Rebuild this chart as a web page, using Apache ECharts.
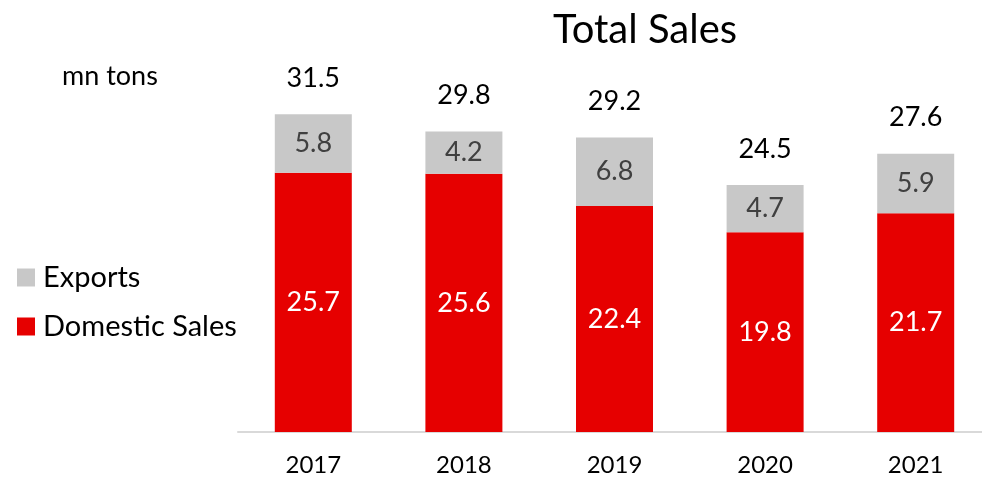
<!DOCTYPE html>
<html>
<head>
<meta charset="utf-8">
<script src="https://cdn.jsdelivr.net/npm/echarts@6/dist/echarts.min.js"></script>
<style>
  html, body { margin: 0; padding: 0; background: #fff; }
  #chart { width: 982px; height: 482px; }
</style>
</head>
<body>
<div id="chart"></div>
<script>
const years = ['2017', '2018', '2019', '2020', '2021'];
const domestic = [25.7, 25.6, 22.4, 19.8, 21.7];
const exports = [5.8, 4.2, 6.8, 4.7, 5.9];
const totals = [31.5, 29.8, 29.2, 24.5, 27.6];

const font = 'Lato, "Open Sans", sans-serif';
const chart = echarts.init(document.getElementById('chart'));

chart.setOption({
  animation: false,
  textStyle: { fontFamily: font },
  title: [
    {
      text: 'Total Sales',
      left: 640, top: 5, textAlign: 'center',
      textStyle: { fontSize: 40, fontWeight: 'normal', color: '#000', fontFamily: font }
    },
    {
      text: 'mn tons',
      left: 57, top: 58,
      textStyle: { fontSize: 27, fontWeight: 'normal', color: '#000', fontFamily: font }
    }
  ],
  legend: {
    orient: 'vertical',
    left: 12, top: 258,
    itemWidth: 18, itemHeight: 18, itemGap: 20,
    icon: 'rect',
    data: ['Exports', 'Domestic Sales'],
    textStyle: { fontSize: 29, color: '#000', fontFamily: font, padding: [0, 0, 0, 3] }
  },
  grid: { left: 238, width: 753, top: 79, bottom: 50, outerBoundsMode: 'none' },
  xAxis: {
    type: 'category',
    data: years,
    axisLine: { lineStyle: { color: '#d9d9d9', width: 2 } },
    axisTick: { show: false },
    axisLabel: { fontSize: 24, color: '#000', margin: 21, fontFamily: font }
  },
  yAxis: { type: 'value', min: 0, max: 35, show: false, splitLine: { show: false } },
  series: [
    {
      name: 'Domestic Sales', type: 'bar', stack: 's', barWidth: 77,
      data: domestic,
      itemStyle: { color: '#e60000' },
      label: { show: true, position: 'inside', color: '#fff', fontSize: 27, fontFamily: font }
    },
    {
      name: 'Exports', type: 'bar', stack: 's', barWidth: 77,
      data: exports,
      itemStyle: { color: '#c8c8c8' },
      label: { show: true, position: 'inside', color: '#404040', fontSize: 27, fontFamily: font }
    },
    {
      name: 'Total', type: 'scatter', data: totals,
      symbolSize: 1, itemStyle: { color: 'rgba(0,0,0,0)', opacity: 1 },
      label: { show: true, position: 'top', distance: 22, color: '#000', fontSize: 27, fontFamily: font },
      silent: true
    }
  ]
});
</script>
</body>
</html>
